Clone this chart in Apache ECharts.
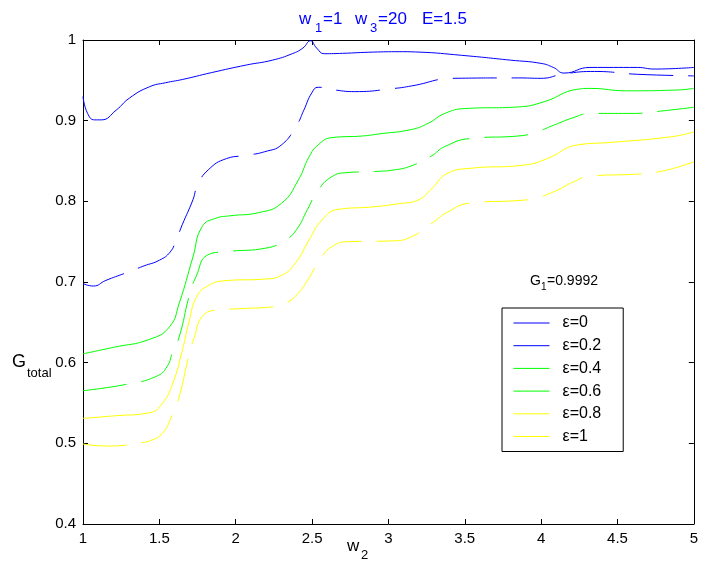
<!DOCTYPE html>
<html>
<head>
<meta charset="utf-8">
<script src="https://cdn.jsdelivr.net/npm/echarts@6/dist/echarts.min.js"></script>
<style>
  html, body { margin: 0; padding: 0; background: #fff; }
  #chart { width: 701px; height: 564px; }
</style>
</head>
<body>
<div id="chart"></div>
<script>
// Transmission G_total versus w2 for several values of epsilon
const xTicks = [1, 1.5, 2, 2.5, 3, 3.5, 4, 4.5, 5];
const yTicks = [0.4, 0.5, 0.6, 0.7, 0.8, 0.9, 1];
const seriesNames = ['ε=0', 'ε=0.2', 'ε=0.4', 'ε=0.6', 'ε=0.8', 'ε=1'];

const w_eps0 = [1.0, 1.03, 1.076, 1.12, 1.217, 1.304, 1.435, 1.54, 1.65, 1.84, 2.07, 2.24, 2.37, 2.44, 2.49, 2.53, 2.58, 2.7, 2.9, 3.07, 3.2, 3.48, 3.8, 4.0, 4.08, 4.15, 4.32, 4.63, 4.74, 5.0];
const g_eps0 = [0.93, 0.909, 0.901, 0.901, 0.913, 0.928, 0.942, 0.947, 0.951, 0.9595, 0.969, 0.975, 0.983, 0.99, 0.999, 0.99, 0.983, 0.9835, 0.985, 0.9855, 0.985, 0.981, 0.975, 0.971, 0.966, 0.959, 0.966, 0.966, 0.964, 0.966];

const w_eps02 = [1.0, 1.067, 1.15, 1.284, 1.4, 1.5, 1.57, 1.61, 1.65, 1.72, 1.75, 1.82, 1.94, 2.07, 2.19, 2.3, 2.4, 2.446, 2.5, 2.54, 2.65, 2.78, 3.04, 3.15, 3.43, 3.85, 4.0, 4.15, 4.35, 4.63, 5.0];
const g_eps02 = [0.698, 0.695, 0.702, 0.7115, 0.72, 0.727, 0.737, 0.752, 0.771, 0.802, 0.82, 0.839, 0.853, 0.857, 0.8615, 0.87, 0.8946, 0.913, 0.935, 0.9414, 0.938, 0.936, 0.94, 0.943, 0.9525, 0.953, 0.9525, 0.958, 0.961, 0.9575, 0.9555];

const w_eps04 = [1.0, 1.2, 1.437, 1.567, 1.63, 1.72, 1.78, 1.87, 1.96, 2.15, 2.3, 2.41, 2.48, 2.54, 2.63, 2.83, 2.935, 3.15, 3.26, 3.37, 3.5, 3.85, 4.02, 4.24, 4.32, 4.56, 4.89, 5.0];
const g_eps04 = [0.611, 0.619, 0.629, 0.6446, 0.6736, 0.731, 0.7686, 0.779, 0.782, 0.786, 0.7976, 0.8264, 0.855, 0.87, 0.879, 0.881, 0.8835, 0.889, 0.8967, 0.909, 0.915, 0.917, 0.9235, 0.939, 0.94, 0.937, 0.938, 0.94];

const w_eps06 = [1.0, 1.28, 1.48, 1.55, 1.588, 1.63, 1.7, 1.74, 1.816, 1.936, 2.197, 2.326, 2.4, 2.47, 2.54, 2.63, 2.72, 2.91, 3.04, 3.15, 3.28, 3.37, 3.54, 3.85, 3.955, 4.085, 4.215, 4.32, 4.61, 4.74, 5.0];
const g_eps06 = [0.5653, 0.573, 0.583, 0.595, 0.614, 0.632, 0.686, 0.7066, 0.7335, 0.7376, 0.742, 0.752, 0.7654, 0.79, 0.814, 0.8306, 0.8355, 0.837, 0.839, 0.844, 0.856, 0.868, 0.878, 0.881, 0.885, 0.8946, 0.904, 0.909, 0.909, 0.911, 0.9166];

const w_eps08 = [1.0, 1.2, 1.437, 1.52, 1.588, 1.65, 1.697, 1.74, 1.806, 1.936, 2.197, 2.305, 2.39, 2.48, 2.565, 2.67, 2.89, 3.065, 3.195, 3.28, 3.39, 3.54, 3.89, 4.04, 4.24, 4.455, 4.85, 5.0];
const g_eps08 = [0.531, 0.534, 0.538, 0.5496, 0.5745, 0.615, 0.653, 0.68, 0.694, 0.7017, 0.7037, 0.7087, 0.7232, 0.752, 0.7769, 0.79, 0.793, 0.797, 0.8017, 0.815, 0.835, 0.841, 0.845, 0.853, 0.87, 0.873, 0.88, 0.886];

const w_eps1 = [1.0, 1.15, 1.295, 1.39, 1.437, 1.52, 1.588, 1.63, 1.697, 1.73, 1.78, 1.87, 2.04, 2.26, 2.316, 2.4, 2.48, 2.555, 2.64, 2.74, 3.03, 3.15, 3.29, 3.39, 3.54, 3.85, 3.955, 4.085, 4.215, 4.32, 4.61, 4.74, 5.0];
const g_eps1 = [0.4992, 0.4967, 0.498, 0.501, 0.503, 0.5124, 0.537, 0.558, 0.6116, 0.632, 0.657, 0.665, 0.667, 0.6695, 0.6727, 0.684, 0.705, 0.729, 0.745, 0.75, 0.751, 0.756, 0.7735, 0.787, 0.798, 0.801, 0.8037, 0.812, 0.8244, 0.8314, 0.8335, 0.8355, 0.849];

const allW = [w_eps0, w_eps02, w_eps04, w_eps06, w_eps08, w_eps1];
const allG = [g_eps0, g_eps02, g_eps04, g_eps06, g_eps08, g_eps1];
const colors = ['#0000ff', '#0000ff', '#00ff00', '#00ff00', '#ffff00', '#ffff00'];
const dashed = [false, true, false, true, false, true];

const FONT = '"Liberation Sans", Arial, Helvetica, sans-serif';

function zip(xs, ys) { return xs.map((x, i) => [x, ys[i]]); }

const series = seriesNames.map((name, i) => ({
  name: name,
  type: 'line',
  xAxisIndex: 0,
  yAxisIndex: 0,
  data: zip(allW[i], allG[i]),
  showSymbol: false,
  symbol: 'none',
  smooth: 0.5,
  color: colors[i],
  lineStyle: { width: 1, color: colors[i], type: dashed[i] ? [44, 15] : 'solid' },
  emphasis: { disabled: true },
  z: 3
}));

const xMin = xTicks[0], xMax = xTicks[xTicks.length - 1];
const yMin = yTicks[0], yMax = yTicks[yTicks.length - 1];

const baseAxisLine = { show: true, onZero: false, lineStyle: { color: '#000', width: 1 } };
const tickIn = { show: true, inside: true, length: 5, lineStyle: { color: '#000', width: 1 } };

function txt(x, y, text, size, fill) {
  return {
    type: 'text', x: x, y: y, silent: true,
    style: { text: text, font: size + 'px ' + FONT, fill: fill, align: 'left', verticalAlign: 'middle' }
  };
}

const chart = echarts.init(document.getElementById('chart'), null, { renderer: 'canvas' });
chart.setOption({
  animation: false,
  backgroundColor: '#ffffff',
  grid: { left: 83, right: 4, top: 40, bottom: 40, containLabel: false },
  xAxis: [
    {
      type: 'value', min: xMin, max: xMax, interval: 0.5, position: 'bottom',
      axisLine: baseAxisLine, axisTick: tickIn, splitLine: { show: false },
      axisLabel: { color: '#000', fontSize: 15, fontFamily: FONT, margin: 7 }
    },
    {
      type: 'value', min: xMin, max: xMax, interval: 0.5, position: 'top',
      axisLine: baseAxisLine, axisTick: tickIn, splitLine: { show: false },
      axisLabel: { show: false }
    }
  ],
  yAxis: [
    {
      type: 'value', min: yMin, max: yMax, interval: 0.1, position: 'left',
      axisLine: baseAxisLine, axisTick: tickIn, splitLine: { show: false },
      axisLabel: { color: '#000', fontSize: 15, fontFamily: FONT, margin: 7 }
    },
    {
      type: 'value', min: yMin, max: yMax, interval: 0.1, position: 'right',
      axisLine: baseAxisLine, axisTick: tickIn, splitLine: { show: false },
      axisLabel: { show: false }
    }
  ],
  legend: {
    data: seriesNames,
    orient: 'vertical',
    left: 502,
    top: 308,
    padding: [7, 22, 7, 11],
    itemWidth: 36,
    itemHeight: 14,
    itemGap: 6.7,
    selectedMode: false,
    backgroundColor: '#ffffff',
    borderColor: '#000000',
    borderWidth: 1,
    borderRadius: 0,
    itemStyle: { opacity: 0 },
    lineStyle: { width: 1 },
    textStyle: { color: '#000', fontSize: 16, fontFamily: FONT, padding: [0, 0, 0, 8] }
  },
  graphic: [
    // title: w1=1  w3=20  E=1.5
    txt(299, 19, 'w', 17, '#0000ff'),
    txt(315, 28, '1', 13, '#0000ff'),
    txt(323, 19, '=1', 17, '#0000ff'),
    txt(355, 19, 'w', 17, '#0000ff'),
    txt(370, 28, '3', 13, '#0000ff'),
    txt(378, 19, '=20', 17, '#0000ff'),
    txt(422, 19, 'E=1.5', 17, '#0000ff'),
    // y axis name G_total
    txt(12, 362, 'G', 18, '#000'),
    txt(27, 373, 'total', 13, '#000'),
    // x axis name w2
    txt(347, 546, 'w', 17, '#000'),
    txt(361, 555, '2', 13, '#000'),
    // annotation G1=0.9992
    txt(530, 281, 'G', 14, '#000'),
    txt(541, 287, '1', 10, '#000'),
    txt(547, 281, '=0.9992', 14, '#000')
  ],
  series: series
});
</script>
</body>
</html>
